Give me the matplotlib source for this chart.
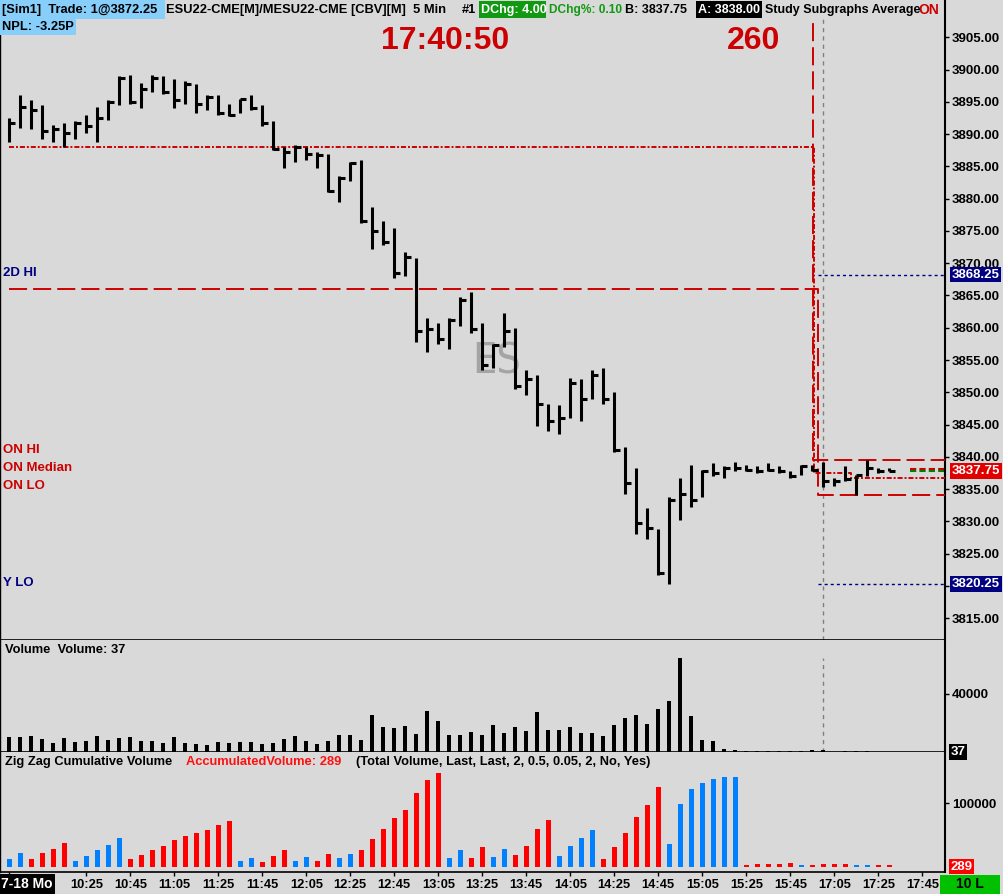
import numpy as np
import pandas as pd
import matplotlib
matplotlib.use("Agg")
import matplotlib.pyplot as plt
from matplotlib.patches import Rectangle

plt.rcParams["font.family"] = ["Liberation Sans", "DejaVu Sans"]
plt.rcParams["font.weight"] = "bold"

# ---- data (5 min HLC bars, ESU22) ----
DAY_START = "2022-07-18 09:50"
DAY_BARS = 74
EVE_START = "2022-07-18 17:00"

HIGH = [3892.5, 3896, 3895.25, 3894.5, 3891.5, 3891.75, 3892, 3893, 3894.25, 3895.25,
        3899, 3899.25, 3898, 3899.25, 3899, 3898.5, 3898.25, 3897.75, 3896, 3896,
        3894.75, 3895.5, 3896, 3894.5, 3892, 3888, 3888.25, 3888, 3887.25, 3887,
        3883.5, 3885.75, 3886, 3878.75, 3876.5, 3875.5, 3871.75, 3870.75, 3861.5, 3860.75,
        3861.5, 3864.75, 3865.5, 3860.75, 3857.5, 3862.25, 3860, 3853.5, 3852.75, 3848.25,
        3848, 3852.25, 3852, 3853.5, 3853.75, 3850, 3841.5, 3838.25, 3832, 3828.75,
        3833.75, 3836.75, 3838.75, 3838, 3839, 3838.5, 3839.25, 3838.75, 3838.5, 3839,
        3838.5, 3837.75, 3838.75, 3838.75, 3839.25, 3836.75, 3838.5, 3837.25, 3839.5, 3838.25,
        3838.25]
LOW = [3888.75, 3891, 3890.75, 3889.25, 3888.75, 3888, 3889.25, 3890.25, 3888.75, 3892.25,
       3894.5, 3894.75, 3894, 3896.5, 3896.25, 3894, 3894.75, 3893.25, 3893.75, 3893,
       3892.75, 3893.25, 3893.75, 3891.25, 3887.5, 3884.75, 3885.75, 3886, 3884.75, 3881,
       3879.5, 3882.75, 3876.25, 3872.25, 3872.75, 3867.75, 3868, 3857.75, 3856.25, 3857.5,
       3856.75, 3860.25, 3859.25, 3853.5, 3853.75, 3857, 3850.5, 3849.5, 3844.75, 3844,
       3843.5, 3846, 3845.5, 3849, 3848.25, 3840.75, 3834.25, 3828, 3827.25, 3821.75,
       3820.25, 3830.25, 3832.25, 3833.75, 3837, 3836.75, 3837.75, 3837.75, 3837.5, 3837.75,
       3837.5, 3836.75, 3837.25, 3837.75, 3835.25, 3835.5, 3836.25, 3834, 3837, 3837.5,
       3837.75]
CLOSE = [3891.75, 3894.25, 3893.75, 3890.5, 3890.75, 3890.25, 3891.75, 3891.25, 3892.5, 3895,
         3898.75, 3895, 3897, 3898.75, 3896.5, 3895.25, 3897.75, 3894.75, 3895.75, 3893.25,
         3893, 3895.5, 3894, 3891.75, 3887.75, 3887.25, 3888, 3887, 3886.75, 3881.25,
         3883.25, 3885.5, 3876.5, 3875, 3873.25, 3868.5, 3871, 3859.5, 3859.75, 3858.25,
         3861.25, 3864.25, 3859.75, 3854.25, 3857.25, 3859.5, 3851, 3852, 3848.25, 3845.5,
         3846, 3851.5, 3849, 3852.75, 3849, 3841, 3836, 3829.75, 3829, 3822,
         3833.25, 3834.25, 3833.25, 3837.75, 3837.5, 3838.25, 3838.25, 3838, 3837.75, 3838,
         3837.75, 3837, 3838.5, 3838, 3836.25, 3836.25, 3836.5, 3837.25, 3838.25, 3837.75,
         3837.75]
VOLUME = [10300, 10300, 11000, 9000, 6200, 9700, 6900, 7600, 11000, 8300,
          9700, 10300, 7600, 7600, 6200, 10300, 6200, 5500, 4800, 6900,
          6200, 6900, 6900, 5500, 6200, 9000, 11000, 7600, 5500, 7600,
          11700, 11700, 8300, 25500, 17200, 16600, 17900, 12400, 28300, 21400,
          11700, 11700, 13800, 11700, 18600, 13300, 17200, 14700, 27600, 15400,
          15400, 17200, 13300, 13300, 11200, 18600, 23400, 25500, 19300, 29700,
          35200, 64800, 24800, 8500, 7600, 2100, 1400, 700, 700, 700,
          700, 700, 700, 1400, 1400, 200, 700, 700, 700, 300,
          37]
ZIGZAG_VOL = [12200, 22100, 12200, 22100, 28400, 37900, 9500, 16900, 26400, 34300,
              45300, 12200, 18500, 26400, 32700, 42200, 48500, 53700, 58000, 66300,
              72200, 9500, 13700, 7900, 16900, 26400, 9500, 15300, 9500, 20100,
              13700, 20100, 26400, 43700, 59500, 76900, 89500, 116400, 136900, 148000,
              13700, 26400, 13700, 31100, 15300, 27900, 18500, 32700, 59500, 73700,
              16900, 32700, 45300, 58000, 12200, 31100, 53200, 78500, 97400, 125800,
              35800, 99000, 122700, 132200, 138500, 141600, 141600, 2700, 4300, 4300,
              4300, 5800, 2700, 2700, 4300, 4300, 4300, 2700, 2700, 2700,
              2700]
# U = up leg (blue), D = down leg (red)
ZIGZAG_DIR = ("UUDDDDUUUUUDDDDDDDDDDUUDDDUUDDUUDDDDDDDDUUDDUUDDDDUUUUDDDDDDUUUUUUU"
              "DDDDDUDDDDUUDD")

TICK_LABELS = ["10:25", "10:45", "11:05", "11:25", "11:45", "12:05", "12:25", "12:45",
               "13:05", "13:25", "13:45", "14:05", "14:25", "14:45", "15:05", "15:25",
               "15:45", "17:05", "17:25", "17:45"]

# reference levels (old session value, new session value)
ON_HI = (3920.0, 3839.5)
ON_MEDIAN = (3888.0, 3837.5, 3836.75)
ON_LO = (3866.0, 3834.0)
TWO_DAY_HI = 3868.25
Y_LO = 3820.25
LAST = 3837.75
BID, ASK = 3837.75, 3838.00

W, H, DPI = 1004, 894, 100
BG = "#D9D9D9"
RED = "#CC0000"
NAVY = "#000080"
UP_BLUE = "#0080FF"
DOWN_RED = "#FF0000"

clock = list(pd.date_range(DAY_START, periods=DAY_BARS, freq="5min").strftime("%H:%M")) + \
    list(pd.date_range(EVE_START, periods=20, freq="5min").strftime("%H:%M"))
x = np.arange(len(CLOSE))
brk = DAY_BARS  # first bar of the evening session

fig = plt.figure(figsize=(W / DPI, H / DPI), dpi=DPI, facecolor=BG)


def box(left, top, right, bottom):
    return [left / W, 1 - bottom / H, (right - left) / W, (bottom - top) / H]


def fx(px):
    return px / W


def fy(py):
    return 1 - py / H


ax_p = fig.add_axes(box(0, 0, 945, 640))
ax_v = fig.add_axes(box(0, 640, 945, 752))
ax_z = fig.add_axes(box(0, 752, 945, 872))

xlim = (-9.3 / 11, (945 - 9.3) / 11)
for ax in (ax_p, ax_v, ax_z):
    ax.set_facecolor(BG)
    ax.set_xlim(*xlim)
    ax.yaxis.tick_right()
    ax.tick_params(axis="y", direction="out", length=3, width=1, pad=2,
                   labelsize=9.5, colors="black")
    ax.spines["top"].set_visible(False)
    ax.spines["left"].set_linewidth(1.0)
    ax.spines["right"].set_linewidth(1.5)
    ax.spines["bottom"].set_linewidth(1.2)

# ---- price panel ----
ax_p.set_ylim(3811.6, 3910.8)
ax_p.vlines(x, LOW, HIGH, color="black", lw=2.2, zorder=4)
ax_p.hlines(CLOSE, x, x + 0.55, color="black", lw=2.2, zorder=4)
ticks = np.arange(3815, 3906, 5)
# the 3820.00 label sits under the Y LO price tag
ax_p.set_yticks(ticks, ["" if t == 3820 else f"{t:.2f}" for t in ticks], fontweight="bold")
ax_p.tick_params(axis="x", bottom=False, labelbottom=False)

clip = Rectangle((xlim[0], 3800), xlim[1] - xlim[0], 3908 - 3800, transform=ax_p.transData)
dash = (0, (9.3, 3.1))
dashdot = (0, (2.6, 1.0, 1.0, 1.0))
line, = ax_p.plot([0, brk - 0.9, brk - 0.9, xlim[1]], [ON_HI[0], ON_HI[0], ON_HI[1], ON_HI[1]],
                  color=RED, lw=1.4, ls=dash, zorder=3)
line.set_clip_path(clip)
ax_p.plot([0, brk - 0.85, brk - 0.85, brk + 2.5, brk + 2.5, xlim[1]],
          [ON_MEDIAN[0], ON_MEDIAN[0], ON_MEDIAN[1], ON_MEDIAN[1], ON_MEDIAN[2], ON_MEDIAN[2]],
          color=RED, lw=1.4, ls=dashdot, zorder=3)
ax_p.plot([0, brk - 0.5, brk - 0.5, xlim[1]], [ON_LO[0], ON_LO[0], ON_LO[1], ON_LO[1]],
          color=RED, lw=1.4, ls=dash, zorder=3)
for lvl in (TWO_DAY_HI, Y_LO):
    ax_p.plot([brk - 0.5, xlim[1]], [lvl, lvl], color=NAVY, lw=1, ls=(0, (2.2, 2.2)), zorder=3)
ax_p.axvline(brk, ymin=0, ymax=(640 - 18) / 640, color="#808080", lw=1, ls=(0, (3, 3)), zorder=2)
ax_p.plot([x[-1] + 1.9, x[-1] + 5.0], [ASK + 0.08, ASK + 0.08], color=RED, lw=1.5, ls=(0, (3, 1.5)))
ax_p.plot([x[-1] + 1.9, x[-1] + 5.0], [BID + 0.05, BID + 0.05], color="#008000", lw=1.5,
          ls=(0, (3, 1.5)))

ax_p.text(497 / 945, 1 - 362 / 640, "ES", transform=ax_p.transAxes, ha="center", va="center",
          fontsize=31, fontweight="normal", color="#A4A4A4", family="DejaVu Sans",
          fontstretch="condensed", zorder=1)

for lbl, py, col in [("2D HI", 273, NAVY), ("ON HI", 450, RED), ("ON Median", 468, RED),
                     ("ON LO", 486, RED), ("Y LO", 583, NAVY)]:
    fig.text(fx(3), fy(py), lbl, color=col, fontsize=9.5, va="center", ha="left")

ytr = ax_p.get_yaxis_transform()
for val, col in [(TWO_DAY_HI, NAVY), (LAST, "#E00000"), (Y_LO, NAVY)]:
    ax_p.text(1.007, val, f"{val:.2f}", transform=ytr, color="white", fontsize=9.5,
              va="center", ha="left", clip_on=False, zorder=6,
              bbox=dict(boxstyle="square,pad=0.15", fc=col, ec="none"))

# ---- header ----
fig.add_artist(Rectangle((0, fy(19)), fx(165), 19 / H, transform=fig.transFigure,
                         fc="#87CEFA", ec="none", zorder=1))
fig.add_artist(Rectangle((0, fy(35)), fx(76), 16 / H, transform=fig.transFigure,
                         fc="#87CEFA", ec="none", zorder=1))
fig.add_artist(Rectangle((fx(479), fy(18)), fx(67), 17 / H, transform=fig.transFigure,
                         fc="#119911", ec="none", zorder=1))
fig.add_artist(Rectangle((fx(696), fy(18)), fx(66), 17 / H, transform=fig.transFigure,
                         fc="black", ec="none", zorder=1))
header = [(2, "[Sim1]  Trade: 1@3872.25", "black", 9.3),
          (166, "ESU22-CME[M]/MESU22-CME [CBV][M]  5 Min", "black", 9.3),
          (462, "#1", "black", 9.3),
          (481, "DChg: 4.00", "white", 9),
          (549, "DChg%: 0.10", "#119911", 8.6),
          (625, "B: 3837.75", "black", 9),
          (698, "A: 3838.00", "white", 9),
          (765, "Study Subgraphs Average", "black", 9)]
for px, s, col, size in header:
    fig.text(fx(px), fy(10), s, color=col, fontsize=size, va="center", ha="left", zorder=3)
ax_p.text(fx(918), fy(10), "ON", transform=fig.transFigure, color=RED, fontsize=10,
          va="center", ha="left", clip_on=True)
fig.text(fx(2), fy(27), "NPL: -3.25P", color="black", fontsize=9.3, va="center", ha="left",
         zorder=3)
fig.text(fx(445), fy(41), "17:40:50", color=RED, fontsize=23, ha="center", va="center")
fig.text(fx(754), fy(41), "260", color=RED, fontsize=23, ha="center", va="center")

# ---- volume panel ----
ax_v.set_ylim(0, 112 / 58 * 40000)
ax_v.bar(x, VOLUME, width=0.36, color="black", zorder=3)
ax_v.set_yticks([40000], ["40000"], fontweight="bold")
ax_v.tick_params(axis="x", bottom=False, labelbottom=False)
ax_v.axvline(brk, ymin=0, ymax=(752 - 658) / 112, color="#808080", lw=1, ls=(0, (3, 3)), zorder=2)
fig.text(fx(5), fy(650), "Volume  Volume: 37", fontsize=9.3, va="center", ha="left")
ax_v.text(1.006, VOLUME[-1], f"{VOLUME[-1]}", transform=ax_v.get_yaxis_transform(),
          color="white", fontsize=9.5, va="center", ha="left", clip_on=False, zorder=6,
          bbox=dict(boxstyle="square,pad=0.12", fc="black", ec="none"))

# ---- zig zag cumulative volume panel ----
ax_z.set_ylim(-5.3 / 63.4 * 1e5, (866.7 - 752) / 63.4 * 1e5)
zz_colors = [UP_BLUE if d == "U" else DOWN_RED for d in ZIGZAG_DIR]
ax_z.bar(x, ZIGZAG_VOL, width=0.42, color=zz_colors, zorder=3)
ax_z.set_yticks([100000], ["100000"], fontweight="bold")
ax_z.text(1.006, 289, "289", transform=ax_z.get_yaxis_transform(), color="white", fontsize=9.5,
          va="center", ha="left", clip_on=False, zorder=6,
          bbox=dict(boxstyle="square,pad=0.12", fc="#FF0000", ec="none"))
fig.text(fx(5), fy(762), "Zig Zag Cumulative Volume", fontsize=9.3, va="center", ha="left")
fig.text(fx(186), fy(762), "AccumulatedVolume: 289", fontsize=9.3, va="center", ha="left",
         color="#FF1010")
fig.text(fx(356), fy(762), "(Total Volume, Last, Last, 2, 0.5, 0.05, 2, No, Yes)", fontsize=9.3,
         va="center", ha="left")

tick_pos = [0] + [clock.index(t) for t in TICK_LABELS]
ax_z.set_xticks(tick_pos, [""] + TICK_LABELS)
ax_z.tick_params(axis="x", direction="out", length=3, width=1, pad=2, labelsize=9.3)
for lab in ax_z.get_xticklabels():
    lab.set_fontweight("bold")

fig.text(fx(1), fy(884), "7-18 Mo", color="white", fontsize=10, va="center", ha="left",
         bbox=dict(boxstyle="square,pad=0.2", fc="black", ec="none"))
fig.add_artist(Rectangle((fx(940), 0), fx(60), 19 / H, transform=fig.transFigure,
                         fc="#00C000", ec="none", zorder=1))
fig.text(fx(970), fy(884), "10 L", color="black", fontsize=10, va="center", ha="center",
         zorder=3)

fig.savefig("out.png", dpi=DPI, facecolor=BG)
